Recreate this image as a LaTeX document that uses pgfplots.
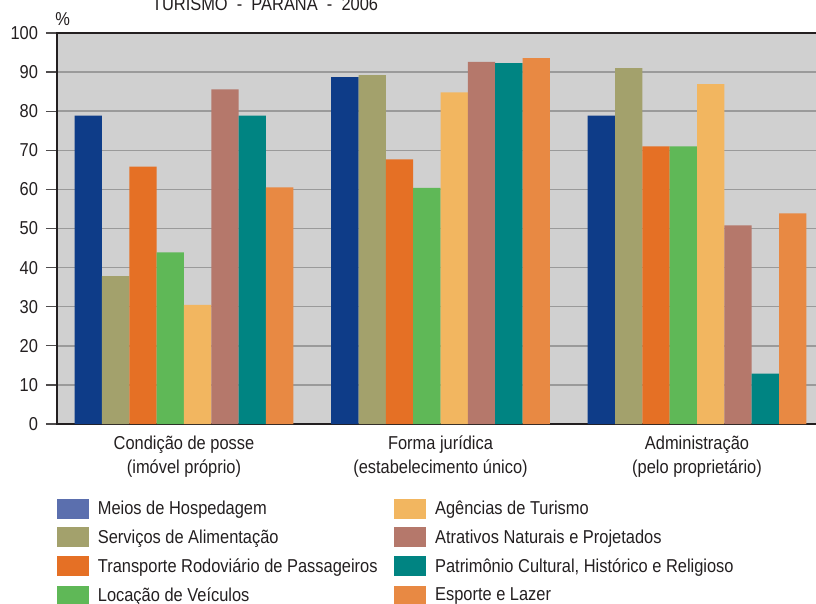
\documentclass[border=0pt]{standalone}
\usepackage{fontspec}
\setmainfont{Liberation Sans}[FakeStretch=0.88]
\usepackage{pgfplots}
\usepackage{pgfplotstable}
\pgfplotsset{compat=1.18}
\definecolor{cBlue}{HTML}{0E3C88}
\definecolor{cBlueL}{HTML}{5B6FAE}
\definecolor{cOlive}{HTML}{A3A16C}
\definecolor{cOrange}{HTML}{E57025}
\definecolor{cGreen}{HTML}{5FB857}
\definecolor{cYellow}{HTML}{F2B660}
\definecolor{cBrown}{HTML}{B5786B}
\definecolor{cTeal}{HTML}{008482}
\definecolor{cOrangeB}{HTML}{E88943}
\definecolor{cBg}{HTML}{D0D0D0}
\definecolor{cGrid}{HTML}{9A9A9A}
\definecolor{cText}{HTML}{231F20}

\pgfplotstableread{
g s1 s2 s3 s4 s5 s6 s7 s8
0 78.9 37.8 65.8 43.9 30.5 85.6 78.9 60.5
1 88.7 89.2 67.7 60.4 84.8 92.6 92.3 93.6
2 78.9 91.0 71.0 71.0 86.9 50.8 12.9 53.9
}\datatable

\begin{document}
\begin{tikzpicture}[font=\fontsize{14}{17}\selectfont, text=cText]
\begin{axis}[
  at={(42.75pt,-318pt)}, anchor=south west,
  scale only axis, width=573pt, height=293.25pt,
  xmin=-0.4951, xmax=2.4834, ymin=0, ymax=100,
  ybar=0pt, bar width=20.5pt,
  axis background/.style={fill=cBg},
  axis line style={draw=cText, line width=1.1pt},
  ymajorgrids, grid style={draw=cGrid, line width=1.1pt},
  ytick={0,10,...,100},
  xtick={0,1,2},
  xticklabels={{Condição de posse\\(imóvel próprio)}, {Forma jurídica\\(estabelecimento único)}, {Administração\\(pelo proprietário)}},
  xticklabel style={align=center, font=\fontsize{14}{18}\selectfont, yshift=3pt},
  yticklabel style={xshift=-2.5pt},
  major x tick style={draw=none},
  ytick pos=left, tick align=outside, major tick length=8.25pt,
  major y tick style={draw=cText!80, line width=1pt},
  /pgf/number format/assume math mode=true,
  legend columns=2,
  legend cell align=left,
  legend style={at={(0,-0.189)}, anchor=north west, draw=none, fill=none,
    inner sep=0pt, outer sep=0pt,
    /tikz/every odd column/.append style={column sep=5pt},
    /tikz/every even column/.append style={column sep=10.5pt},
    row sep=6pt},
  legend image code/.code={\fill[#1] (0pt,-7.125pt) rectangle (23.25pt,7.125pt);},
]
\addlegendimage{cBlueL}\addlegendentry{Meios de Hospedagem}
\addlegendimage{cYellow}\addlegendentry{Agências de Turismo}
\addlegendimage{cOlive}\addlegendentry{Serviços de Alimentação}
\addlegendimage{cBrown}\addlegendentry{Atrativos Naturais e Projetados}
\addlegendimage{cOrange}\addlegendentry{Transporte Rodoviário de Passageiros}
\addlegendimage{cTeal}\addlegendentry{Patrimônio Cultural, Histórico e Religioso}
\addlegendimage{cGreen}\addlegendentry{Locação de Veículos}
\addlegendimage{cOrangeB}\addlegendentry{Esporte e Lazer}
\addplot[fill=cBlue, draw=none] table[x=g,y=s1]{\datatable};
\addplot[fill=cOlive, draw=none] table[x=g,y=s2]{\datatable};
\addplot[fill=cOrange, draw=none] table[x=g,y=s3]{\datatable};
\addplot[fill=cGreen, draw=none] table[x=g,y=s4]{\datatable};
\addplot[fill=cYellow, draw=none] table[x=g,y=s5]{\datatable};
\addplot[fill=cBrown, draw=none] table[x=g,y=s6]{\datatable};
\addplot[fill=cTeal, draw=none] table[x=g,y=s7]{\datatable};
\addplot[fill=cOrangeB, draw=none] table[x=g,y=s8]{\datatable};
\end{axis}
\node[anchor=base west, inner sep=0pt] at (41.25pt,-18.75pt) {\%};
\node[anchor=base west, inner sep=0pt] at (113.8pt,-7.5pt) {TURISMO\ \ -\ \ PARANÁ\ \ -\ \ 2006};
\pgfresetboundingbox
\path[use as bounding box] (0,0) rectangle (612pt,-452.25pt);
\end{tikzpicture}
\end{document}
